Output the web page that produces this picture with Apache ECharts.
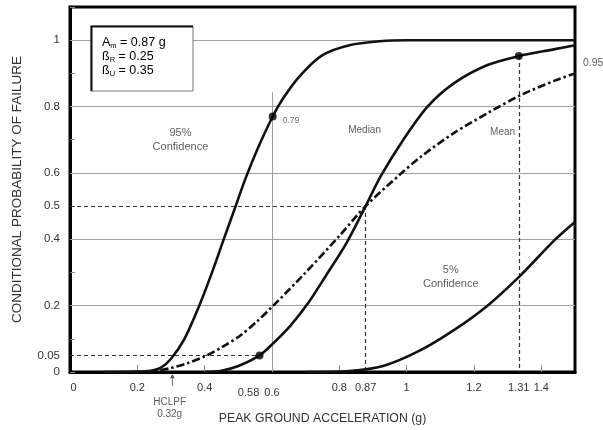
<!DOCTYPE html>
<html>
<head>
<meta charset="utf-8">
<script src="https://cdn.jsdelivr.net/npm/echarts@6/dist/echarts.min.js"></script>
<style>
html,body{margin:0;padding:0;background:#fff;}
#chart{width:603px;height:430px;}
</style>
</head>
<body>
<div id="chart"></div>
<script>
// ---- data ----
const conf95 = [[0.10,0],[0.20,0.001],[0.24,0.004],[0.27,0.013],[0.30,0.04],[0.34,0.10],[0.382,0.195],[0.42,0.295],[0.455,0.395],[0.492,0.50],[0.522,0.585],[0.557,0.672],[0.602,0.77],[0.635,0.828],[0.685,0.895],[0.75,0.955],[0.83,0.985],[0.92,0.997],[1.0,1.0],[1.5,1.0]];
const median = [[0.40,0],[0.45,0.004],[0.50,0.018],[0.563,0.05],[0.60,0.083],[0.655,0.14],[0.709,0.21],[0.76,0.29],[0.822,0.39],[0.878,0.50],[0.923,0.59],[0.99,0.70],[1.062,0.80],[1.14,0.87],[1.24,0.925],[1.333,0.952],[1.44,0.973],[1.5,0.985]];
const mean = [[0.22,0],[0.26,0.004],[0.30,0.012],[0.35,0.027],[0.40,0.047],[0.45,0.074],[0.506,0.11],[0.555,0.152],[0.602,0.198],[0.70,0.30],[0.80,0.41],[0.878,0.50],[0.98,0.595],[1.041,0.648],[1.14,0.72],[1.24,0.78],[1.34,0.835],[1.44,0.878],[1.5,0.90]];
const conf5 = [[0.70,0],[0.83,0.003],[0.93,0.018],[1.04,0.065],[1.14,0.126],[1.24,0.20],[1.333,0.286],[1.44,0.398],[1.5,0.452]];

const keyPoints = [[0.602,0.77],[0.563,0.05],[1.333,0.952]];
const dashedRefs = [[[0,0.5],[0.878,0.5]],[[0.878,0.5],[0.878,0]],[[0,0.05],[0.563,0.05]],[[1.333,0.952],[1.333,0]]];
const yGridValues = [0.2,0.4,0.6,0.8,1.0];
const xGuide = [[0.6,0],[0.6,0.843]];

const xLabelValues = [0,0.2,0.4,0.563,0.6,0.8,0.878,1,1.2,1.333,1.4];
const xLabelTexts  = ['0','0.2','0.4','0.58','0.6','0.8','0.87','1','1.2','1.31','1.4'];
const xTickValues  = [0.2,0.4,0.8,1.0,1.2,1.4];
const yLabelValues = [0,0.05,0.2,0.4,0.5,0.6,0.8,1];

const hclpf = [0.304, 0];
const notes = [
  {text:'95%\nConfidence', pos:[0.328,0.70], size:11},
  {text:'Median', pos:[0.875,0.73], size:10},
  {text:'Mean', pos:[1.285,0.722], size:10},
  {text:'5%\nConfidence', pos:[1.131,0.286], size:11}
];

// ---- chart ----
const FONT = '"Liberation Sans", Arial, sans-serif';
const chart = echarts.init(document.getElementById('chart'), null, {renderer:'canvas'});
const xLabelMap = {};
xLabelValues.forEach((v,i)=>{ xLabelMap[v] = xLabelTexts[i]; });

const curveStyle = {color:'#111', width:2.6};
function curve(name, data, type){
  return {name, type:'line', data, symbol:'none', smooth:0.3, z:5,
    lineStyle:Object.assign({}, curveStyle, type ? {type} : {}), silent:true};
}

const option = {
  animation:false,
  backgroundColor:'#fff',
  grid:{left:70, right:28, top:7, bottom:58, show:true, borderColor:'#000', borderWidth:3, backgroundColor:'transparent'},
  xAxis:{
    type:'value', min:0, max:1.5, interval:0.2,
    name:'PEAK GROUND ACCELERATION (g)', nameLocation:'middle', nameGap:41,
    nameTextStyle:{fontFamily:FONT, fontSize:12.3, color:'#333'},
    axisLine:{show:true, onZero:false, lineStyle:{color:'#000', width:3}},
    axisTick:{show:true, inside:true, length:7, customValues:xTickValues, lineStyle:{color:'#888', width:1}},
    splitLine:{show:false},
    axisLabel:{
      customValues:xLabelValues, margin:10, fontFamily:FONT, fontSize:11, color:'#333',
      formatter:function(v){
        const t = xLabelMap[v] !== undefined ? xLabelMap[v] : '';
        if (t==='0.58') return '{l|0.58}';
        if (t==='0.6') return '{d|0.6}';
        if (t==='0') return '{z|0}';
        return t;
      },
      rich:{
        l:{fontFamily:FONT, fontSize:11, color:'#333', padding:[5,22,0,0]},
        d:{fontFamily:FONT, fontSize:11, color:'#333', padding:[5,0,0,0]},
        z:{fontFamily:FONT, fontSize:11, color:'#333', padding:[0,0,0,7]}
      }
    }
  },
  yAxis:{
    type:'value', min:0, max:1.1, interval:0.1,
    name:'CONDITIONAL PROBABILITY OF FAILURE', nameLocation:'middle', nameGap:46,
    nameTextStyle:{fontFamily:FONT, fontSize:13.5, color:'#333'},
    axisLine:{show:true, lineStyle:{color:'#000', width:3}},
    axisTick:{show:true, inside:true, length:5, lineStyle:{color:'#888', width:1}},
    splitLine:{show:false},
    axisLabel:{customValues:yLabelValues, margin:10, fontFamily:FONT, fontSize:11.5, color:'#333',
      formatter:function(v){ return String(v); }}
  },
  series:[
    {type:'line', data:[], silent:true, z:1, clip:false,
     markLine:{silent:true, symbol:'none', label:{show:false}, animation:false,
       lineStyle:{color:'#a0a0a0', width:1, type:'solid'},
       data: yGridValues.map(v=>({yAxis:v})).concat([[{coord:xGuide[0]},{coord:xGuide[1]}]])}},
    {type:'line', data:[], silent:true, z:2, clip:false,
     markLine:{silent:true, symbol:'none', label:{show:false}, animation:false,
       lineStyle:{color:'#333', width:1.2, type:[4,3]},
       data: dashedRefs.map(p=>[{coord:p[0]},{coord:p[1]}])}},
    curve('95% Confidence', conf95),
    curve('Median', median),
    curve('Mean', mean, [8,3,2.5,3]),
    curve('5% Confidence', conf5),
    {type:'scatter', data:keyPoints, symbol:'circle', symbolSize:8, z:6, silent:true,
     itemStyle:{color:'#000'},
     label:{show:true, position:'right', distance:6, offset:[0,4], fontFamily:FONT, fontSize:8.5, color:'#444',
       formatter:function(p){ return p.dataIndex===0 ? '0.79' : ''; }}},
    {type:'scatter', data:[[1.5,0.931]], symbolSize:0, z:6, silent:true, clip:false,
     label:{show:true, position:'right', distance:8, fontFamily:FONT, fontSize:10.5, color:'#333', formatter:'0.95'}},
    {type:'scatter', data:notes.map(n=>({value:n.pos,
        label:{formatter:n.text, fontSize:n.size, lineHeight:n.size+3}})),
     symbolSize:1, itemStyle:{color:'rgba(0,0,0,0)'}, z:6, silent:true,
     label:{show:true, position:'inside', fontFamily:FONT, color:'#333', align:'center', verticalAlign:'middle'}},
    {type:'scatter', data:[[hclpf[0]-0.008, hclpf[1]]], symbolSize:0, z:6, silent:true, clip:false,
     label:{show:true, position:'bottom', distance:24, fontFamily:FONT, fontSize:10, lineHeight:12, color:'#333', formatter:'HCLPF\n0.32g'}},
    {type:'scatter', data:[hclpf], z:6, silent:true, clip:false,
     symbol:'path://M3,0 L6,4.5 L3.5,4.5 L3.5,13 L2.5,13 L2.5,4.5 L0,4.5 Z',
     symbolSize:[5,12], symbolOffset:[0,8], itemStyle:{color:'#333'}}
  ],
  graphic:[
    {type:'rect', z:100, shape:{x:91, y:26, width:102, height:65},
     style:{fill:'#fff', stroke:'#777', lineWidth:1}},
    {type:'polyline', z:101, shape:{points:[[91.5,91],[91.5,26.5],[193,26.5]]},
     style:{fill:null, stroke:'#111', lineWidth:2}},
    {type:'text', z:102, left:102, top:36,
     style:{text:'{a|A}{s|m}{a| = 0.87 g}\n{a|ß}{s|R}{a| = 0.25}\n{a|ß}{s|U}{a| = 0.35}',
       rich:{a:{fontFamily:FONT, fontSize:12.5, color:'#333', lineHeight:14},
             s:{fontFamily:FONT, fontSize:7.5, color:'#333', lineHeight:14, verticalAlign:'bottom'}}}}
  ]
};
chart.setOption(option);
</script>
</body>
</html>
